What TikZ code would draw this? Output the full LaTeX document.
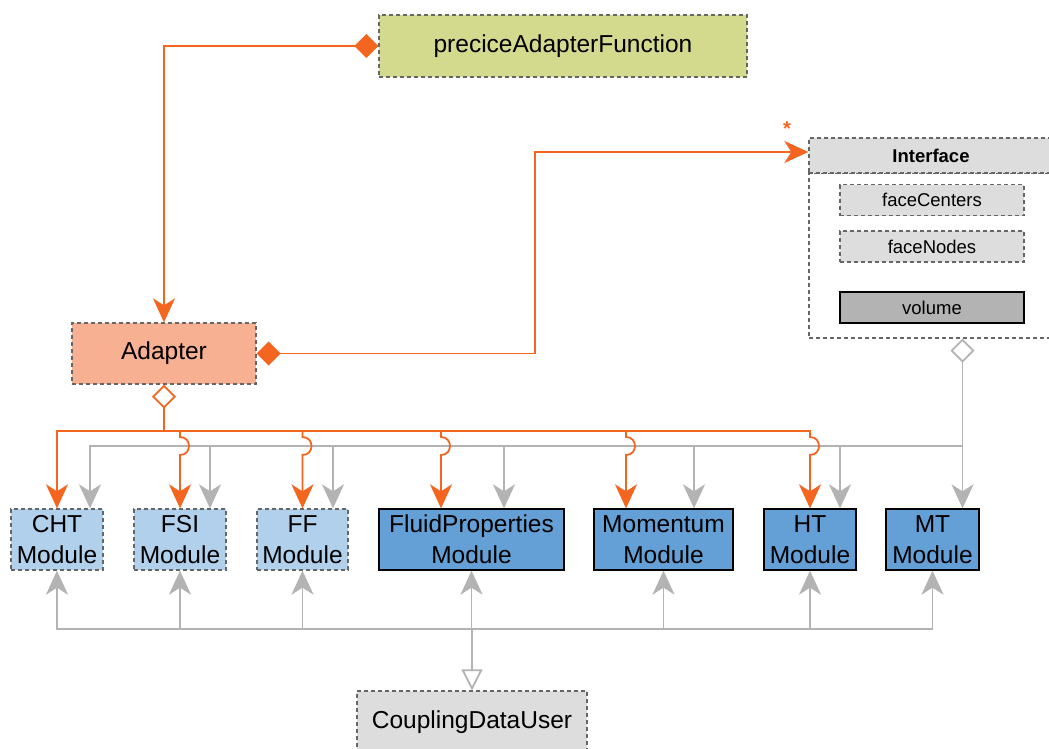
\documentclass[tikz,border=0pt]{standalone}
\usepackage{fontspec}
\setmainfont{Liberation Sans}
\usetikzlibrary{arrows.meta,calc}
\definecolor{org}{HTML}{F4651F}
\definecolor{gry}{HTML}{B3B3B3}
\definecolor{bord}{HTML}{666666}
\definecolor{pafc}{HTML}{D3D98D}
\definecolor{adc}{HTML}{F8B093}
\definecolor{lgray}{HTML}{DDDDDD}
\definecolor{dgray}{HTML}{B3B3B3}
\definecolor{lblue}{HTML}{B1D0EC}
\definecolor{dblue}{HTML}{64A0D6}
\tikzset{
  dbox/.style={draw=bord, dash pattern=on 4pt off 3pt, line width=1.3pt, inner sep=0pt, align=center,
    font=\fontsize{24.5}{31}\selectfont},
  sbox/.style={draw=black, line width=1.3pt, inner sep=0pt, align=center, font=\fontsize{24.5}{31}\selectfont},
  ibox/.style={dbox, font=\fontsize{18.5}{22}\selectfont, minimum width=184, minimum height=31, fill=lgray},
  modl/.style={dbox, fill=lblue, minimum height=61},
  modd/.style={sbox, fill=dblue, minimum height=61},
  oline/.style={draw=org, line width=1.8pt},
  gline/.style={draw=gry, line width=1.8pt},
  otip/.style={-{Stealth[length=24pt,width=22pt,inset=7pt]}},
  gtip/.style={-{Stealth[length=24pt,width=22pt,inset=7pt]}},
}
\begin{document}
\begin{tikzpicture}[x=1pt,y=-1pt]
\clip (0,0) rectangle (1049,749);
\fill[white] (0,0) rectangle (1049,749);

% nodes
\node[dbox, fill=pafc, minimum width=368, minimum height=62] (paf) at (563,46) {preciceAdapterFunction};
\node[dbox, fill=adc, minimum width=184, minimum height=61] (ad) at (164,353.5) {Adapter};

\node[dbox, fill=white, minimum width=244, minimum height=165] (icont) at (931,255.5) {};
\node[dbox, fill=lgray, minimum width=244, minimum height=35, font=\fontsize{18.5}{22}\selectfont\bfseries] (ih) at (931,155.5) {Interface};
\node[ibox] (fc) at (932,200) {faceCenters};
\node[ibox] (fn) at (932,246.5) {faceNodes};
\node[ibox, draw=black, solid, fill=dgray] (vol) at (932,307.5) {volume};
\node[text=org, font=\fontsize{20}{22}\selectfont\bfseries] (star) at (787,129) {*};

\node[modl, minimum width=92] (cht) at (57,539.5) {CHT\\Module};
\node[modl, minimum width=92] (fsi) at (180,539.5) {FSI\\Module};
\node[modl, minimum width=91] (ff) at (302.5,539.5) {FF\\Module};
\node[modd, minimum width=185] (fp) at (471.5,539.5) {FluidProperties\\Module};
\node[modd, minimum width=139] (mom) at (663.5,539.5) {Momentum\\Module};
\node[modd, minimum width=92] (ht) at (810,539.5) {HT\\Module};
\node[modd, minimum width=93] (mt) at (932.5,539.5) {MT\\Module};

\node[dbox, fill=lgray, minimum width=230, minimum height=62] (cdu) at (472,722) {CouplingDataUser};

% top connectors
\draw[oline, {Diamond[length=24pt,width=24pt]}-{Stealth[length=24pt,width=22pt,inset=7pt]}] (paf.west) -| (ad.north);
\draw[oline, {Diamond[length=24pt,width=24pt]}-{Stealth[length=24pt,width=22pt,inset=7pt]}] (ad.east) -- ++(278,0) |- ($(ih.west)+(0,-3.5)$);

% gray aggregation from Interface
\coordinate (gd) at ($(icont.south)+(31.5,0)$);
\coordinate (gb) at (962.5,446);
\draw[gline, {Diamond[length=24pt,width=24pt,fill=white]}-{Stealth[length=24pt,width=22pt,inset=7pt]}] (gd) -- ($(mt.north)+(30,0)$);
\foreach \n/\dx in {cht/33,fsi/30,ff/30.5,fp/32.5,mom/30.5,ht/30}{
  \draw[gline, gtip] (gb) -| ($(\n.north)+(\dx,0)$);
}

% orange aggregation from Adapter
\coordinate (ob) at (164,431);
\draw[oline, {Diamond[length=24pt,width=24pt,fill=white]}-] (ad.south) -- (ob);
\draw[oline, otip] (ob) -| (cht.north);
\foreach \n/\dx in {fsi/0,ff/0,fp/-30.5,mom/-37.5,ht/0}{
  \path ($(\n.north)+(\dx,0)$) coordinate (tip);
  \draw[oline, otip] (ob) -| ($(tip|-ob)+(0,6)$) .. controls +(12,0) and +(12,0) .. ($(tip|-ob)+(0,24)$) -- (tip);
}

% bottom generalisation
\coordinate (cb) at ($(cdu.north)+(0,-61)$);
\foreach \n in {cht,fsi,ff,fp,mom,ht,mt}{
  \draw[gline, gtip] (cb) -| (\n.south);
}
\draw[gline, -{Triangle[open,length=21pt,width=21pt,fill=white]}] (cb) -- (cdu.north);
\end{tikzpicture}
\end{document}
